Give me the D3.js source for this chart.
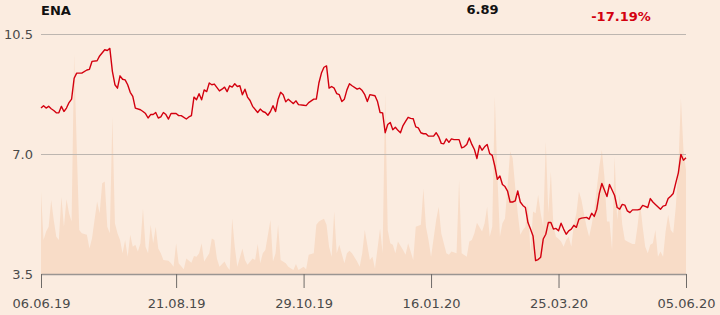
<!DOCTYPE html>
<html>
<head>
<meta charset="utf-8">
<script src="https://cdn.jsdelivr.net/npm/d3@7"></script>
<style>
  html, body { margin: 0; padding: 0; background: #fbece0; }
  svg { display: block; font-family: "DejaVu Sans", sans-serif; }
</style>
</head>
<body>
<div id="chart"></div>
<script>
// 종목 정보
const ticker = "ENA";
const lastPrice = "6.89";
const changePct = "-17.19%";

// x축 눈금 (거래일 인덱스)
const tickDays = [0, 53, 103, 153, 203, 253];
const tickLabels = ["06.06.19", "21.08.19", "29.10.19", "16.01.20", "25.03.20", "05.06.20"];
const priceTicks = [3.5, 7.0, 10.5];

// 종가 (거래일 인덱스, 가격)
const priceDays = [0,1,2,3,4,5,6,7,8,9,10,11,12,13,14,16,18,19,20,22,23,25,26,27,28,29,30,31,32,33,34,35,36,37,39,40,41,42,43,44,45,46,47,48,49,50,51,53,54,55,57,58,59,60,61,62,63,64,65,66,67,68,70,71,72,73,74,75,76,77,78,79,80,81,82,83,85,86,87,88,89,90,91,92,93,94,95,96,97,98,99,100,101,103,104,105,107,108,109,110,111,112,113,114,115,116,117,118,119,120,121,122,124,125,126,127,128,129,131,132,133,134,135,136,137,138,139,140,141,142,143,144,145,146,147,148,149,150,151,152,154,155,156,157,158,159,160,161,162,163,164,165,166,167,168,169,170,171,172,173,174,175,176,177,178,179,180,181,182,183,184,185,186,187,188,189,190,191,192,193,194,195,196,197,198,199,200,201,202,203,204,205,206,207,208,209,210,211,212,214,215,216,217,218,219,220,221,222,223,224,225,226,227,228,229,230,231,232,233,234,235,236,237,238,239,240,241,243,244,245,246,247,248,249,250,251,252,253];
const prices = [8.34,8.41,8.34,8.39,8.32,8.27,8.20,8.20,8.39,8.24,8.34,8.50,8.60,9.21,9.36,9.36,9.45,9.47,9.70,9.72,9.86,10.04,10.02,10.08,9.41,9.02,8.92,9.28,9.18,9.16,9.02,8.80,8.68,8.34,8.29,8.24,8.18,8.05,8.15,8.15,8.21,8.05,8.08,8.21,8.15,8.02,8.18,8.18,8.12,8.12,8.02,8.08,8.12,8.66,8.58,8.76,8.58,8.87,8.82,9.07,9.02,9.04,8.84,8.89,8.95,8.82,8.99,8.95,9.05,8.97,8.99,8.73,8.89,8.66,8.56,8.39,8.21,8.31,8.24,8.21,8.13,8.24,8.41,8.24,8.60,8.80,8.73,8.52,8.60,8.53,8.47,8.55,8.44,8.42,8.41,8.50,8.60,8.60,9.07,9.36,9.53,9.57,8.92,8.97,8.92,8.76,8.73,8.53,8.60,8.87,9.05,8.99,8.89,8.92,8.85,8.73,8.53,8.73,8.70,8.53,8.21,8.20,7.62,7.86,7.92,7.71,7.78,7.69,7.62,7.83,7.95,8.07,8.04,8.03,7.79,7.76,7.62,7.59,7.59,7.52,7.52,7.62,7.50,7.31,7.30,7.44,7.34,7.44,7.42,7.42,7.42,7.18,7.21,7.28,7.47,7.28,7.13,6.87,7.25,7.11,7.21,7.28,7.01,6.96,6.65,6.26,6.36,6.11,6.05,5.92,5.60,5.60,5.63,5.92,5.60,5.50,5.44,5.00,4.81,4.61,3.89,3.92,3.99,4.52,4.66,5.00,5.00,4.81,4.83,4.76,4.98,4.81,4.66,4.76,4.81,4.92,4.86,5.10,5.13,5.15,5.10,5.27,5.18,5.39,5.85,6.14,5.95,5.76,6.11,5.95,5.79,5.44,5.39,5.53,5.51,5.34,5.29,5.37,5.37,5.37,5.39,5.50,5.47,5.44,5.70,5.60,5.53,5.39,5.48,5.50,5.70,5.77,5.85,6.16,6.45,6.99,6.82,6.89];

// 거래량 (거래일 인덱스, 백만 주)
const volumeDays = [0,1,2,3,4,5,6,7,8,9,10,11,12,13,14,15,16,18,19,20,22,23,24,25,26,27,28,29,30,31,32,33,34,35,36,37,38,39,40,41,42,43,44,45,46,47,48,50,51,52,53,54,56,57,59,60,61,62,63,64,66,67,68,69,70,72,73,74,75,76,77,79,80,81,83,84,85,86,87,88,90,91,92,93,94,96,97,99,100,101,103,104,105,107,108,109,110,111,112,113,114,115,116,117,119,120,121,122,124,125,126,127,129,130,131,133,134,135,136,137,138,139,140,142,143,144,145,146,147,149,150,151,152,153,155,156,157,159,160,161,163,164,165,167,168,169,170,171,173,174,175,176,177,178,179,180,181,182,183,184,185,186,187,188,189,190,191,192,193,194,195,196,197,198,199,200,201,202,203,204,205,206,207,208,209,210,211,212,213,214,215,216,217,218,219,220,221,222,223,224,225,226,227,228,229,230,231,232,233,234,235,236,237,238,239,240,241,242,243,244,245,246,247,248,249,250,251,252,253];
const volumes = [2.06,0.85,1.06,1.18,1.85,1.35,0.93,0.85,1.93,1.18,1.87,1.52,1.31,5.50,3.20,1.10,1.02,0.98,0.64,0.89,1.81,1.52,2.27,2.31,1.18,1.02,3.93,1.27,1.02,0.85,0.52,0.85,0.43,0.98,0.68,0.73,0.56,0.77,1.64,0.68,0.52,1.23,0.77,1.18,0.64,0.52,0.35,0.33,0.27,0.18,0.77,0.27,0.12,0.39,0.28,0.45,0.43,0.52,0.77,0.31,0.52,0.89,0.85,0.39,0.18,0.31,0.18,0.10,1.39,0.68,0.18,0.64,0.35,0.23,0.39,0.35,0.75,0.27,0.52,0.60,1.35,0.31,0.52,1.23,0.35,0.27,0.18,0.10,0.25,0.10,0.18,0.12,0.48,0.52,1.23,1.31,1.35,1.38,1.23,0.68,0.43,1.56,0.52,0.73,0.27,0.52,0.58,0.52,0.31,0.18,0.52,1.10,0.35,0.43,0.14,1.14,0.52,4.52,1.10,0.77,0.73,0.52,0.81,0.60,0.48,0.77,0.56,0.35,1.18,1.23,2.14,1.18,0.85,0.43,1.35,1.68,1.02,0.52,0.48,0.56,0.52,2.35,0.52,0.43,0.81,0.85,1.02,1.28,1.06,1.27,1.68,0.93,1.18,4.45,2.50,0.93,1.27,1.39,2.18,3.06,2.90,2.18,1.52,0.98,1.10,1.18,1.77,0.52,1.56,1.52,1.98,1.52,1.18,3.31,1.52,2.56,1.18,0.93,0.88,0.81,0.68,0.85,0.93,0.68,1.23,1.52,2.06,1.85,1.50,1.18,0.93,1.23,1.60,2.14,2.68,3.10,2.43,1.31,1.31,0.60,2.93,1.35,1.98,1.23,0.85,0.81,0.78,0.75,0.75,1.20,1.77,1.18,0.68,0.52,0.73,0.77,1.10,0.43,0.56,0.43,1.06,1.48,1.10,1.02,1.68,2.68,4.39,3.10,2.60];

function drawChart() {
    const width = 720;
    const height = 315;
    const margin = { left: 41, right: 34, top: 34, bottom: 41 };
    const red = "#d3000f";

    var svg = d3.select("#chart").append("svg")
        .attr("width", width)
        .attr("height", height);

    svg.append("rect")
        .attr("width", width)
        .attr("height", height)
        .attr("fill", "#fbece0");

    // 스케일
    var xScale = d3.scaleLinear()
        .domain([0, 253])
        .range([margin.left, width - margin.right]);

    var yScale = d3.scaleLinear()
        .domain([3.5, 10.5])
        .range([height - margin.bottom, margin.top]);

    var vScale = d3.scaleLinear()
        .domain([0, 6])
        .range([height - margin.bottom, margin.top]);

    // 거래량 영역
    var volData = volumeDays.map((d, i) => ({ day: d, v: volumes[i] }));
    var area = d3.area()
        .x(d => xScale(d.day))
        .y0(vScale(0))
        .y1(d => vScale(d.v));

    svg.append("path")
        .datum(volData)
        .attr("d", area)
        .attr("fill", "#f8dcc7");

    // y축 격자
    var yAxis = svg.append("g")
        .attr("class", "y-axis")
        .attr("transform", `translate(${margin.left},0)`)
        .call(d3.axisLeft(yScale)
            .tickValues(priceTicks)
            .tickFormat(d3.format(".1f"))
            .tickSize(-(width - margin.left - margin.right))
            .tickPadding(8));
    yAxis.select(".domain").remove();
    yAxis.selectAll("line").attr("stroke", "#bdb6b0");
    yAxis.selectAll("text")
        .attr("fill", "#4a4a4a")
        .style("font-size", "13px")
        .style("font-family", "DejaVu Sans");

    // 가격 선
    var priceData = priceDays.map((d, i) => ({ day: d, p: prices[i] }));
    var line = d3.line()
        .x(d => xScale(d.day))
        .y(d => yScale(d.p));

    svg.append("path")
        .datum(priceData)
        .attr("d", line)
        .attr("fill", "none")
        .attr("stroke", red)
        .attr("stroke-width", 1.4)
        .attr("stroke-linejoin", "round");

    // x축
    var xAxis = svg.append("g")
        .attr("class", "x-axis")
        .attr("transform", `translate(0,${height - margin.bottom})`)
        .call(d3.axisBottom(xScale)
            .tickValues(tickDays)
            .tickFormat((d, i) => tickLabels[i])
            .tickSize(14)
            .tickSizeOuter(0)
            .tickPadding(11));
    xAxis.select(".domain").attr("stroke", "#9a9592").attr("stroke-width", 1.5);
    xAxis.selectAll("line").attr("stroke", "#6f6b68");
    xAxis.selectAll("text")
        .attr("fill", "#4a4a4a")
        .style("font-size", "13px")
        .style("font-family", "DejaVu Sans");

    // 헤더
    svg.append("text")
        .attr("x", margin.left)
        .attr("y", 15)
        .style("font-size", "13px")
        .style("font-weight", "bold")
        .attr("fill", "#111")
        .text(ticker);

    svg.append("text")
        .attr("x", 482.5)
        .attr("y", 14)
        .attr("text-anchor", "middle")
        .style("font-size", "13px")
        .style("font-weight", "bold")
        .attr("fill", "#111")
        .text(lastPrice);

    svg.append("text")
        .attr("x", 621)
        .attr("y", 21)
        .attr("text-anchor", "middle")
        .style("font-size", "13px")
        .style("font-weight", "bold")
        .attr("fill", red)
        .text(changePct);
}

drawChart();
</script>
</body>
</html>
